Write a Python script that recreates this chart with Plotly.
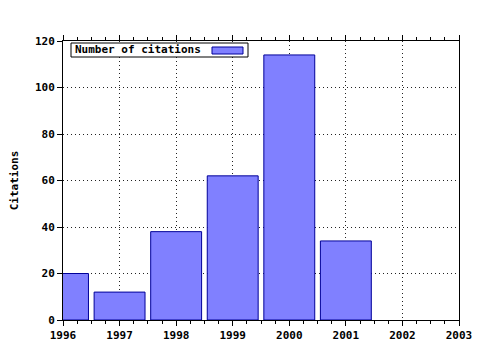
import plotly.graph_objects as go

years = [1996, 1997, 1998, 1999, 2000, 2001]
citations = [20, 12, 38, 62, 114, 34]
x_ticks = [1996, 1997, 1998, 1999, 2000, 2001, 2002, 2003]
y_ticks = [0, 20, 40, 60, 80, 100, 120]
series_name = "Number of citations"

MONO = "DejaVu Sans Mono"
FONT = dict(family=MONO, size=11, color="black")
BAR_FILL = "#8080ff"
BAR_LINE = "#000099"

fig = go.Figure()
fig.add_trace(go.Bar(
    x=years, y=citations, width=0.9, name=series_name,
    marker=dict(color=BAR_FILL, line=dict(color=BAR_LINE, width=1)),
))

L, R, T, B = 63, 21, 41, 30
W, H = 480, 350
pw, ph = W - L - R, H - T - B

def px(x):
    return (x - L) / pw

def py(y):
    return (H - B - y) / ph

fig.update_layout(
    width=W, height=H,
    margin=dict(l=L, r=R, t=T, b=B, autoexpand=False),
    paper_bgcolor="white", plot_bgcolor="white",
    font=FONT,
    showlegend=False,
    shapes=[
        dict(type="rect", xref="paper", yref="paper",
             x0=px(71), x1=px(248), y0=py(57), y1=py(43),
             fillcolor="white", line=dict(color="black", width=1), layer="above"),
        dict(type="rect", xref="paper", yref="paper",
             x0=px(212), x1=px(243), y0=py(54), y1=py(47),
             fillcolor=BAR_FILL, line=dict(color=BAR_LINE, width=1), layer="above"),
    ],
    annotations=[dict(
        xref="paper", yref="paper", x=px(73), y=py(50), xanchor="left", yanchor="middle",
        text=f"<b>{series_name}</b>", showarrow=False, align="left",
        font=dict(family=MONO, size=11, color="black"),
    )],
)

fig.update_xaxes(
    range=[1996, 2003], tickvals=x_ticks, ticktext=[f"<b>{v}</b>" for v in x_ticks],
    showline=True, linecolor="black", linewidth=1, mirror="ticks",
    ticks="outside", ticklen=5, tickcolor="black",
    minor=dict(dtick=0.25, tick0=1996, ticks="outside", ticklen=3, tickcolor="black", showgrid=False),
    showgrid=True, gridcolor="#222222", griddash="1px,3px", gridwidth=1,
    zeroline=False, automargin=False,
)
fig.update_yaxes(
    range=[0, 120], tickvals=y_ticks, ticktext=[f"<b>{v}</b>" for v in y_ticks],
    showline=True, linecolor="black", linewidth=1, mirror=True,
    ticks="outside", ticklen=5, tickcolor="black",
    showgrid=True, gridcolor="#222222", griddash="1px,3px", gridwidth=1,
    zeroline=False, automargin=False,
    title=dict(text="<b>Citations</b>", standoff=14, font=dict(family=MONO, size=11)),
)

fig.write_html("out.html")
